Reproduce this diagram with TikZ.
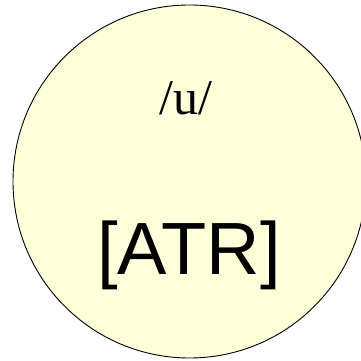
\documentclass[tikz,border=0pt]{standalone}
\usepackage{fontspec}
\setmainfont{Liberation Serif}
\newfontfamily\featfont{Liberation Sans}
\usetikzlibrary{positioning}
\definecolor{SegFill}{HTML}{FFFFD9}

\begin{document}
\begin{tikzpicture}[x=1pt,y=1pt,
      seg/.style={circle,draw=black,fill=SegFill,line width=0.9pt,
        minimum size=353pt,inner sep=0pt},
      phon/.style={anchor=base,font=\fontsize{50}{50}\selectfont},
      feat/.style={anchor=base,font=\featfont\fontsize{74}{74}\selectfont}
    ]
    \useasboundingbox (0,0) rectangle (360,361);
    \node[seg] (u) at (189.5,179.5) {};
    \node[phon] (uname) at (186,246) {/u/};
    \node[feat] (atr) at (189,86) {[ATR]};
  \end{tikzpicture}
\end{document}
